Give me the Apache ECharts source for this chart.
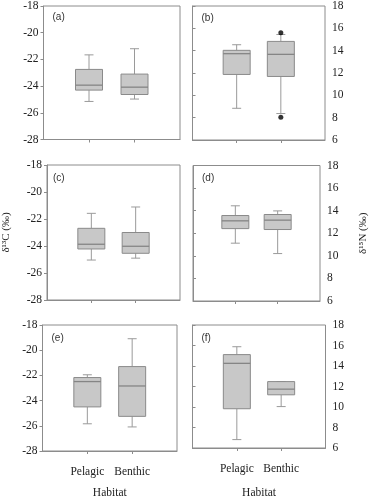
<!DOCTYPE html>
<html>
<head>
<meta charset="utf-8">
<script src="https://cdn.jsdelivr.net/npm/echarts@6/dist/echarts.min.js"></script>
<style>html,body{margin:0;padding:0;background:#fff}#c{width:370px;height:500px}</style>
</head>
<body>
<div id="c"></div>
<script>
// ---- data ----
const categories = ['Pelagic', 'Benthic'];
const panelLabels = ['(a)', '(b)', '(c)', '(d)', '(e)', '(f)'];
// each box: [min, Q1, median, Q3, max], one per category
const c13_a = [[-25.15, -24.30, -23.93, -22.75, -21.66], [-24.97, -24.63, -24.08, -23.10, -21.20]];
const n15_b = [[8.84, 11.87, 13.73, 14.03, 14.53], [8.37, 11.69, 13.67, 14.83, 15.45]];
const c13_c = [[-25.04, -24.22, -23.87, -22.69, -21.58], [-24.90, -24.54, -24.02, -23.00, -21.11]];
const n15_d = [[11.12, 12.41, 13.10, 13.57, 14.43], [10.20, 12.33, 13.16, 13.66, 13.98]];
const c13_e = [[-25.84, -24.50, -22.49, -22.17, -21.95], [-26.09, -25.25, -22.84, -21.30, -19.09]];
const n15_f = [[6.82, 9.83, 14.26, 15.11, 15.88], [10.04, 11.19, 11.74, 12.48, 12.48]];
// outliers: [category index, value]
const outliers_b = [[1, 15.60], [1, 8.04]];
const carbonRange = [-28, -18];
const nitrogenRange = [6, 18];
const habitatTitle = 'Habitat';
const carbonTitle = 'δ¹³C (‰)';
const nitrogenTitle = 'δ¹⁵N (‰)';

const panels = [c13_a, n15_b, c13_c, n15_d, c13_e, n15_f];
const panelOutliers = [[], outliers_b, [], [], [], []];

// ---- layout ----
const grids = [
  {left: 43.5, top: 4.5, width: 136.5, height: 135},
  {left: 192.5, top: 5, width: 132.5, height: 135},
  {left: 44, top: 165, width: 136, height: 135},
  {left: 193, top: 165.5, width: 134, height: 135.5},
  {left: 42.5, top: 325, width: 134.5, height: 134.5},
  {left: 192.5, top: 325, width: 133, height: 135.5}
];

const frameColor = '#8c8c8c';
const textColor = '#222';
const serif = '"Liberation Serif", "Times New Roman", serif';

function renderBox(params, api) {
  const x = api.value(0);
  const vals = [api.value(1), api.value(2), api.value(3), api.value(4), api.value(5)];
  const pts = vals.map(v => api.coord([x, v]));
  const cx = pts[0][0];
  const bw = 27, cw = 9;
  const yMin = pts[0][1], yQ1 = pts[1][1], yMed = pts[2][1], yQ3 = pts[3][1], yMax = pts[4][1];
  const whisk = {stroke: '#9a9a9a', lineWidth: 1};
  const children = [
    {type: 'line', shape: {x1: cx, y1: yQ3, x2: cx, y2: yMax}, style: whisk},
    {type: 'line', shape: {x1: cx, y1: yQ1, x2: cx, y2: yMin}, style: whisk},
    {type: 'line', shape: {x1: cx - cw / 2, y1: yMax, x2: cx + cw / 2, y2: yMax}, style: whisk},
    {type: 'line', shape: {x1: cx - cw / 2, y1: yMin, x2: cx + cw / 2, y2: yMin}, style: whisk},
    {type: 'rect', shape: {x: cx - bw / 2, y: yQ3, width: bw, height: yQ1 - yQ3},
      style: {fill: '#c8c8c8', stroke: '#8a8a8a', lineWidth: 1}},
    {type: 'line', shape: {x1: cx - bw / 2, y1: yMed, x2: cx + bw / 2, y2: yMed},
      style: {stroke: '#858585', lineWidth: 1.3}}
  ];
  return {type: 'group', children: children};
}

const option = {
  animation: false,
  backgroundColor: '#fff',
  grid: grids.map(g => Object.assign({show: true, borderColor: frameColor, borderWidth: 1, backgroundColor: 'transparent'}, g)),
  title: panelLabels.map((t, i) => ({
    text: t, left: grids[i].left + 4, top: grids[i].top + 3,
    textStyle: {fontSize: 10, fontWeight: 'normal', color: '#333', fontFamily: '"Liberation Sans", Arial, sans-serif'}
  })),
  xAxis: grids.map((g, i) => ({
    type: 'value', gridIndex: i, min: 0, max: 3, interval: 1,
    axisLine: {show: true, lineStyle: {color: frameColor}},
    axisTick: {show: true, inside: false, length: 3, customValues: [1, 2], lineStyle: {color: frameColor}},
    splitLine: {show: false},
    axisLabel: {show: i >= 4, customValues: [1, 2], margin: 15, fontSize: 11.5, color: textColor, fontFamily: serif,
      formatter: v => categories[Math.round(v) - 1] || ''},
    name: i >= 4 ? habitatTitle : '', nameLocation: 'middle', nameGap: i === 5 ? 39 : 36,
    nameTextStyle: {fontSize: 11.5, color: textColor, fontFamily: serif}
  })),
  yAxis: grids.map((g, i) => {
    const right = i % 2 === 1;
    const r = right ? nitrogenRange : carbonRange;
    return {
      type: 'value', gridIndex: i, position: right ? 'right' : 'left',
      min: r[0], max: r[1], interval: 2,
      axisLine: {show: true, lineStyle: {color: frameColor}},
      axisTick: {show: true, inside: false, length: 3, lineStyle: {color: frameColor}},
      splitLine: {show: false},
      axisLabel: {margin: right ? 7 : 5, fontSize: 11.5, color: textColor, fontFamily: serif,
        formatter: v => String(v)},
      name: i === 2 ? carbonTitle : (i === 3 ? nitrogenTitle : ''),
      nameLocation: 'middle', nameRotate: 90, nameGap: right ? 38 : 35,
      nameTextStyle: {fontSize: 11, color: textColor, fontFamily: serif}
    };
  }),
  series: []
};

panels.forEach((boxes, i) => {
  option.series.push({
    type: 'custom', xAxisIndex: i, yAxisIndex: i,
    renderItem: renderBox,
    encode: {x: 0, y: [1, 2, 3, 4, 5]},
    data: boxes.map((b, k) => [k + 1].concat(b))
  });
  if (panelOutliers[i].length) {
    option.series.push({
      type: 'scatter', xAxisIndex: i, yAxisIndex: i, symbolSize: 5,
      itemStyle: {color: '#000'},
      data: panelOutliers[i].map(o => [o[0] + 1, o[1]])
    });
  }
});

const chart = echarts.init(document.getElementById('c'), null, {renderer: 'canvas'});
chart.setOption(option);
</script>
</body>
</html>
